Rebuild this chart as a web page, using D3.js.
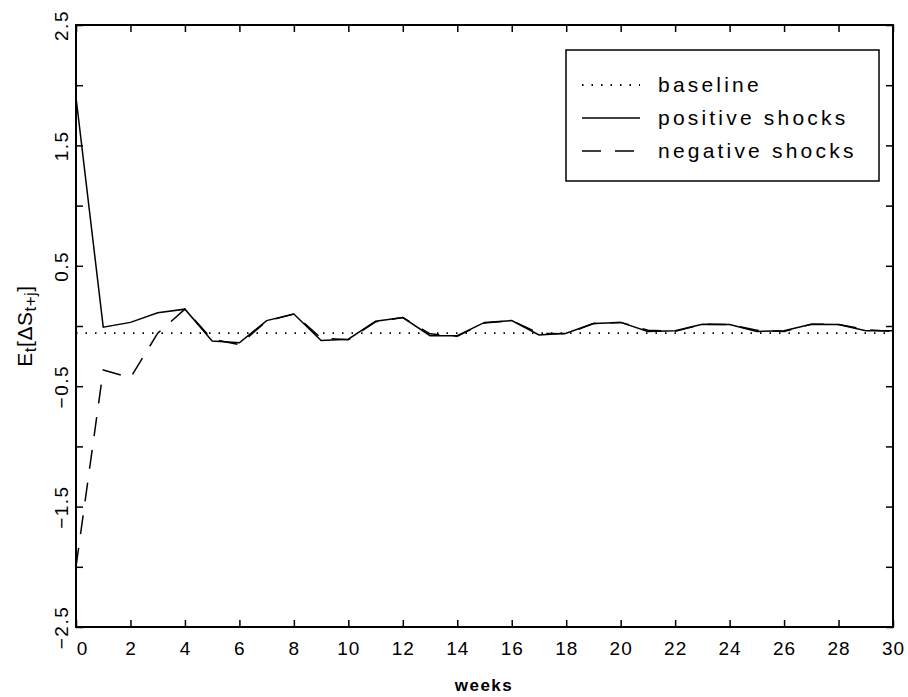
<!DOCTYPE html>
<html>
<head>
<meta charset="utf-8">
<script src="https://cdn.jsdelivr.net/npm/d3@7"></script>
<style>
  body { margin: 0; background: #fff; }
  svg { display: block; }
  text { font-family: "Liberation Sans", Arial, sans-serif; fill: #000; }
</style>
</head>
<body>
<svg id="chart" width="908" height="697"></svg>
<script>
// weeks after the shock
const weeks = [0, 1, 2, 3, 4, 5, 6, 7, 8, 9, 10, 11, 12, 13, 14, 15, 16, 17, 18, 19, 20,
               21, 22, 23, 24, 25, 26, 27, 28, 29, 30];
const baseline = [-0.06, -0.06, -0.06, -0.06, -0.06, -0.06, -0.06, -0.06, -0.06, -0.06, -0.06,
                  -0.06, -0.06, -0.06, -0.06, -0.06, -0.06, -0.06, -0.06, -0.06, -0.06,
                  -0.06, -0.06, -0.06, -0.06, -0.06, -0.06, -0.06, -0.06, -0.06, -0.06];
const positive = [1.90, -0.01, 0.03, 0.11, 0.14, -0.125, -0.14, 0.045, 0.10, -0.12, -0.11,
                  0.04, 0.07, -0.08, -0.08, 0.03, 0.045, -0.075, -0.06, 0.02, 0.03,
                  -0.045, -0.04, 0.015, 0.013, -0.045, -0.04, 0.015, 0.013, -0.04, -0.04];
const negative = [-2.00, -0.365, -0.43, -0.06, 0.14, -0.11, -0.155, 0.04, 0.10, -0.10, -0.115,
                  0.035, 0.07, -0.065, -0.085, 0.025, 0.045, -0.06, -0.065, 0.02, 0.03,
                  -0.035, -0.045, 0.015, 0.013, -0.035, -0.045, 0.015, 0.013, -0.03, -0.045];
const xTicks = [0, 2, 4, 6, 8, 10, 12, 14, 16, 18, 20, 22, 24, 26, 28, 30];
const yTicks = [-2.5, -2, -1.5, -1, -0.5, 0, 0.5, 1, 1.5, 2, 2.5];
const yLabels = [-2.5, -1.5, -0.5, 0.5, 1.5, 2.5];
const legendNames = ["baseline", "positive shocks", "negative shocks"];

const svg = d3.select("#chart");
const plotL = 76, plotR = 893, plotT = 25, plotB = 627;

const x = d3.scaleLinear().domain([0, 30]).range([plotL, plotR]);
const y = d3.scaleLinear().domain([-2.5, 2.5]).range([plotB, plotT]);

// axes: ticks point inward on all four sides
const fmt = d3.format(".1f");
const gx = svg.append("g").attr("transform", `translate(0,${plotB})`)
  .call(d3.axisBottom(x).tickValues(xTicks).tickSizeInner(-7).tickSizeOuter(0).tickPadding(15)
    .tickFormat(d3.format("d")));
gx.selectAll("text").style("font-size", "19px").style("letter-spacing", "1px")
  .attr("dx", d => d === 0 ? 6 : 0);

const gy = svg.append("g").attr("transform", `translate(${plotL},0)`)
  .call(d3.axisLeft(y).tickValues(yTicks).tickSizeInner(-7).tickSizeOuter(0)
    .tickFormat(d => yLabels.includes(d) ? fmt(d) : ""));
gy.selectAll("text")
  .attr("x", null).attr("dy", null)
  .attr("text-anchor", "middle")
  .attr("transform", "translate(-8,0) rotate(-90)")
  .style("font-size", "19px").style("letter-spacing", "1.5px");

svg.append("g").attr("transform", `translate(0,${plotT})`)
  .call(d3.axisTop(x).tickValues(xTicks).tickSizeInner(-7).tickSizeOuter(0).tickFormat(""));
svg.append("g").attr("transform", `translate(${plotR},0)`)
  .call(d3.axisRight(y).tickValues(yTicks).tickSizeInner(-7).tickSizeOuter(0).tickFormat(""));

svg.selectAll(".domain").remove();
svg.selectAll(".tick line").attr("stroke", "#000").attr("stroke-width", 1.5);

// frame
svg.append("rect")
  .attr("x", plotL).attr("y", plotT)
  .attr("width", plotR - plotL).attr("height", plotB - plotT)
  .attr("fill", "none").attr("stroke", "#000").attr("stroke-width", 2);

// series
const line = d3.line().x((d, i) => x(weeks[i])).y(d => y(d));
const styles = [
  { data: baseline, dash: "1.5,8", width: 1.8 },
  { data: positive, dash: null, width: 1.5 },
  { data: negative, dash: "19,14", width: 1.5 }
];
svg.append("g").selectAll("path")
  .data(styles)
  .enter()
  .append("path")
    .attr("d", s => line(s.data))
    .attr("fill", "none")
    .attr("stroke", "#000")
    .attr("stroke-width", s => s.width)
    .attr("stroke-dasharray", s => s.dash);

// legend
const lg = svg.append("g");
lg.append("rect")
  .attr("x", 566).attr("y", 50).attr("width", 313).attr("height", 131)
  .attr("fill", "#fff").attr("stroke", "#000").attr("stroke-width", 1.5);
legendNames.forEach((name, i) => {
  const yy = 85 + i * 33;
  lg.append("line")
    .attr("x1", 582).attr("x2", 640).attr("y1", yy).attr("y2", yy)
    .attr("stroke", "#000")
    .attr("stroke-width", styles[i].width)
    .attr("stroke-dasharray", styles[i].dash);
  lg.append("text")
    .attr("x", 658).attr("y", yy + 7)
    .style("font-size", "21px").style("letter-spacing", "3.2px")
    .text(name);
});

// axis titles
svg.append("text")
  .attr("x", 484).attr("y", 691)
  .attr("text-anchor", "middle")
  .style("font-size", "17px").style("font-weight", "bold").style("letter-spacing", "1.5px")
  .text("weeks");

const yt = svg.append("text")
  .attr("transform", `translate(32,${(plotT + plotB) / 2}) rotate(-90)`)
  .attr("text-anchor", "middle")
  .style("font-size", "21px").style("letter-spacing", "0.5px");
yt.append("tspan").text("E");
yt.append("tspan").attr("dy", 4).style("font-size", "17px").text("t");
yt.append("tspan").attr("dy", -4).text("[ΔS");
yt.append("tspan").attr("dy", 4).style("font-size", "17px").text("t+j");
yt.append("tspan").attr("dy", -4).text("]");
</script>
</body>
</html>
